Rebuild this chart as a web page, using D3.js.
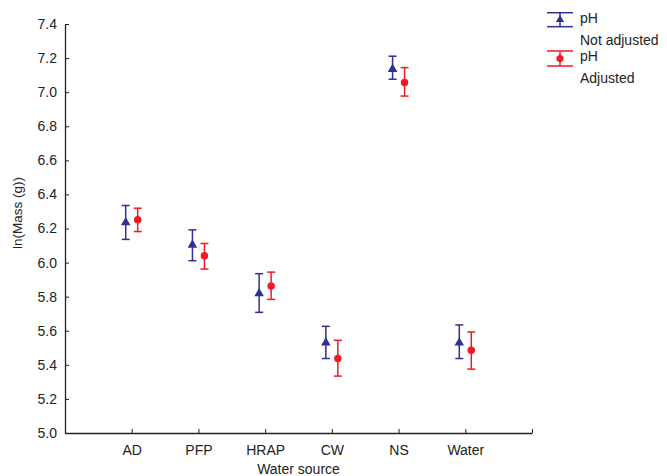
<!DOCTYPE html>
<html>
<head>
<meta charset="utf-8">
<script src="https://cdn.jsdelivr.net/npm/d3@7"></script>
<style>
  body { margin: 0; background: #fff; }
  svg { font-family: "Liberation Sans", Arial, sans-serif; }
</style>
</head>
<body>
<div id="chart"></div>
<script>
const categories = ['AD', 'PFP', 'HRAP', 'CW', 'NS', 'Water'];
const notAdjMean = [6.235, 6.104, 5.818, 5.529, 7.135, 5.529];
const notAdjLow  = [6.136, 6.011, 5.708, 5.437, 7.076, 5.437];
const notAdjHigh = [6.335, 6.192, 5.935, 5.626, 7.211, 5.634];
const adjMean = [6.251, 6.040, 5.862, 5.437, 7.057, 5.486];
const adjLow  = [6.182, 5.962, 5.784, 5.334, 6.977, 5.375];
const adjHigh = [6.319, 6.112, 5.944, 5.544, 7.144, 5.593];
const yTicks = [5.0, 5.2, 5.4, 5.6, 5.8, 6.0, 6.2, 6.4, 6.6, 6.8, 7.0, 7.2, 7.4];

const width = 667, height = 476;
const margin = { top: 24, right: 135, bottom: 43, left: 65 };

const svg = d3.select('#chart').append('svg')
    .attr('width', width)
    .attr('height', height);

// categories sit at 1..6 on a 0..7 axis
const x = d3.scaleLinear().domain([0, categories.length + 1]).range([margin.left, width - margin.right]);
const y = d3.scaleLinear().domain([5.0, 7.4]).range([height - margin.bottom, margin.top]);

const blue = '#2e3192';
const red = '#ed1c24';

// y axis, ticks inside
const yAxis = svg.append('g')
    .attr('transform', `translate(${margin.left},0)`)
    .call(d3.axisRight(y).tickValues(yTicks).tickFormat(d3.format('.1f')).tickSize(4).tickSizeOuter(0));
yAxis.select('.domain').attr('stroke', '#222').attr('stroke-width', 1.3);
yAxis.selectAll('.tick line').attr('stroke', '#222');
yAxis.selectAll('.tick text')
    .attr('x', -8)
    .attr('text-anchor', 'end')
    .attr('font-size', 14)
    .attr('fill', '#222');

// x axis, ticks inside
const xAxis = svg.append('g')
    .attr('transform', `translate(0,${height - margin.bottom})`)
    .call(d3.axisTop(x).tickValues(d3.range(1, categories.length + 2))
        .tickFormat(i => categories[i - 1] || '').tickSize(4).tickSizeOuter(0));
xAxis.select('.domain').attr('stroke', '#222').attr('stroke-width', 1.3);
xAxis.selectAll('.tick line').attr('stroke', '#222');
xAxis.selectAll('.tick text')
    .attr('y', 22)
    .attr('font-size', 14)
    .attr('fill', '#222');

svg.append('text')
    .attr('x', (margin.left + width - margin.right) / 2)
    .attr('y', 474)
    .attr('text-anchor', 'middle')
    .attr('font-size', 14)
    .attr('fill', '#222')
    .text('Water source');

svg.append('text')
    .attr('transform', 'rotate(-90)')
    .attr('x', -213)
    .attr('y', 22)
    .attr('text-anchor', 'middle')
    .attr('font-size', 13.5)
    .attr('fill', '#222')
    .text('ln(Mass (g))');

const series = [
    { mean: notAdjMean, low: notAdjLow, high: notAdjHigh, color: blue, dx: -6, shape: d3.symbolTriangle, size: 40 },
    { mean: adjMean, low: adjLow, high: adjHigh, color: red, dx: 6, shape: d3.symbolCircle, size: 44 }
];

series.forEach(s => {
    const g = svg.append('g');
    const pts = categories.map((c, i) => ({ i, m: s.mean[i], lo: s.low[i], hi: s.high[i] }));
    const px = d => x(d.i + 1) + s.dx;
    g.selectAll('line.bar').data(pts).enter().append('line')
        .attr('x1', px).attr('x2', px)
        .attr('y1', d => y(d.lo)).attr('y2', d => y(d.hi))
        .attr('stroke', s.color).attr('stroke-width', 1.5);
    ['lo', 'hi'].forEach(k => {
        g.selectAll('line.cap' + k).data(pts).enter().append('line')
            .attr('x1', d => px(d) - 4).attr('x2', d => px(d) + 4)
            .attr('y1', d => y(d[k])).attr('y2', d => y(d[k]))
            .attr('stroke', s.color).attr('stroke-width', 1.5);
    });
    g.selectAll('path').data(pts).enter().append('path')
        .attr('d', d3.symbol().type(s.shape).size(s.size))
        .attr('transform', d => `translate(${px(d)},${y(d.m)})`)
        .attr('fill', s.color);
});

// legend
const legendItems = [
    { color: blue, shape: d3.symbolTriangle, size: 30, lines: ['pH', 'Not adjusted'], top: 12.7, bottom: 26.7 },
    { color: red, shape: d3.symbolCircle, size: 40, lines: ['pH', 'Adjusted'], top: 51, bottom: 66 }
];
legendItems.forEach(it => {
    const g = svg.append('g');
    const cx = 560;
    g.append('line').attr('x1', cx).attr('x2', cx).attr('y1', it.top).attr('y2', it.bottom)
        .attr('stroke', it.color).attr('stroke-width', 1.5);
    [it.top, it.bottom].forEach(yy => {
        g.append('line').attr('x1', cx - 13).attr('x2', cx + 13).attr('y1', yy).attr('y2', yy)
            .attr('stroke', it.color).attr('stroke-width', 1.5);
    });
    g.append('path')
        .attr('d', d3.symbol().type(it.shape).size(it.size))
        .attr('transform', `translate(${cx},${(it.top + it.bottom) / 2})`)
        .attr('fill', it.color);
    it.lines.forEach((t, j) => {
        g.append('text')
            .attr('x', 580)
            .attr('y', it.top + 10 + j * 22)
            .attr('font-size', 14)
            .attr('fill', '#222')
            .text(t);
    });
});
</script>
</body>
</html>
